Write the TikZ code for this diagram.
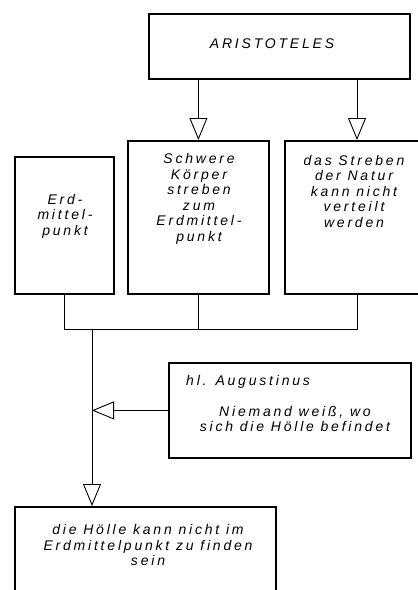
\documentclass[tikz,border=0pt]{standalone}
\usepackage{fontspec}
\newfontfamily\hand[LetterSpace=20]{Liberation Sans}
\usetikzlibrary{arrows.meta}
\begin{document}
\begin{tikzpicture}[x=1pt,y=-1pt,
  box/.style={draw, line width=1.8pt, inner sep=0pt, anchor=north west},
  txt/.style={font=\hand\itshape\fontsize{14}{15.5}\selectfont, align=center, inner sep=0pt},
  conn/.style={line width=0.9pt},
  arr/.style={conn, -{Triangle[open, length=22pt, width=18pt, line width=0.9pt]}}
]
\useasboundingbox (0,0) rectangle (418,590);
\begin{scope}
\clip (0,0) rectangle (418,590);
% boxes
\node[box, minimum width=261pt, minimum height=65pt] (arist) at (148,13) {};
\node[box, minimum width=99pt, minimum height=137pt] (erd) at (14,156) {};
\node[box, minimum width=141pt, minimum height=153pt] (mid) at (127,140) {};
\node[box, minimum width=146pt, minimum height=153pt] (right) at (284,140) {};
\node[box, minimum width=242pt, minimum height=95pt] (aug) at (168,362) {};
\node[box, minimum width=261pt, minimum height=110pt] (bot) at (14,506) {};
% texts
\node[txt] (tA) at (272,44) {ARISTOTELES};
\node[txt] (tE) at (65,216) {Erd-\\mittel-\\punkt};
\node[txt] (tM) at (199,199) {Schwere\\Körper\\streben\\zum\\Erdmittel-\\punkt};
\node[txt] (tR) at (354,191) {das Streben\\der Natur\\kann nicht\\verteilt\\werden};
\node[txt, anchor=west] (tH) at (186,382) {hl. Augustinus};
\node[txt] (tN) at (295,419) {Niemand weiß, wo\\sich die Hölle befindet};
\node[txt] (tB) at (148,545) {die Hölle kann nicht im\\Erdmittelpunkt zu finden\\sein};
% connectors
\coordinate (tipR) at (357,140);
\coordinate (j) at (92,329);
\draw[arr] (arist.south -| mid.north) -- (mid.north);
\draw[arr] (arist.south -| tipR) -- (tipR);
\draw[conn] (erd.south) -- (erd.south |- j) -- (right.south |- j) -- (right.south);
\draw[conn] (mid.south) -- (mid.south |- j);
\draw[arr] (j) -- (j |- bot.north);
\draw[arr] (aug.west) -- (aug.west -| j);
\end{scope}
\end{tikzpicture}
\end{document}
